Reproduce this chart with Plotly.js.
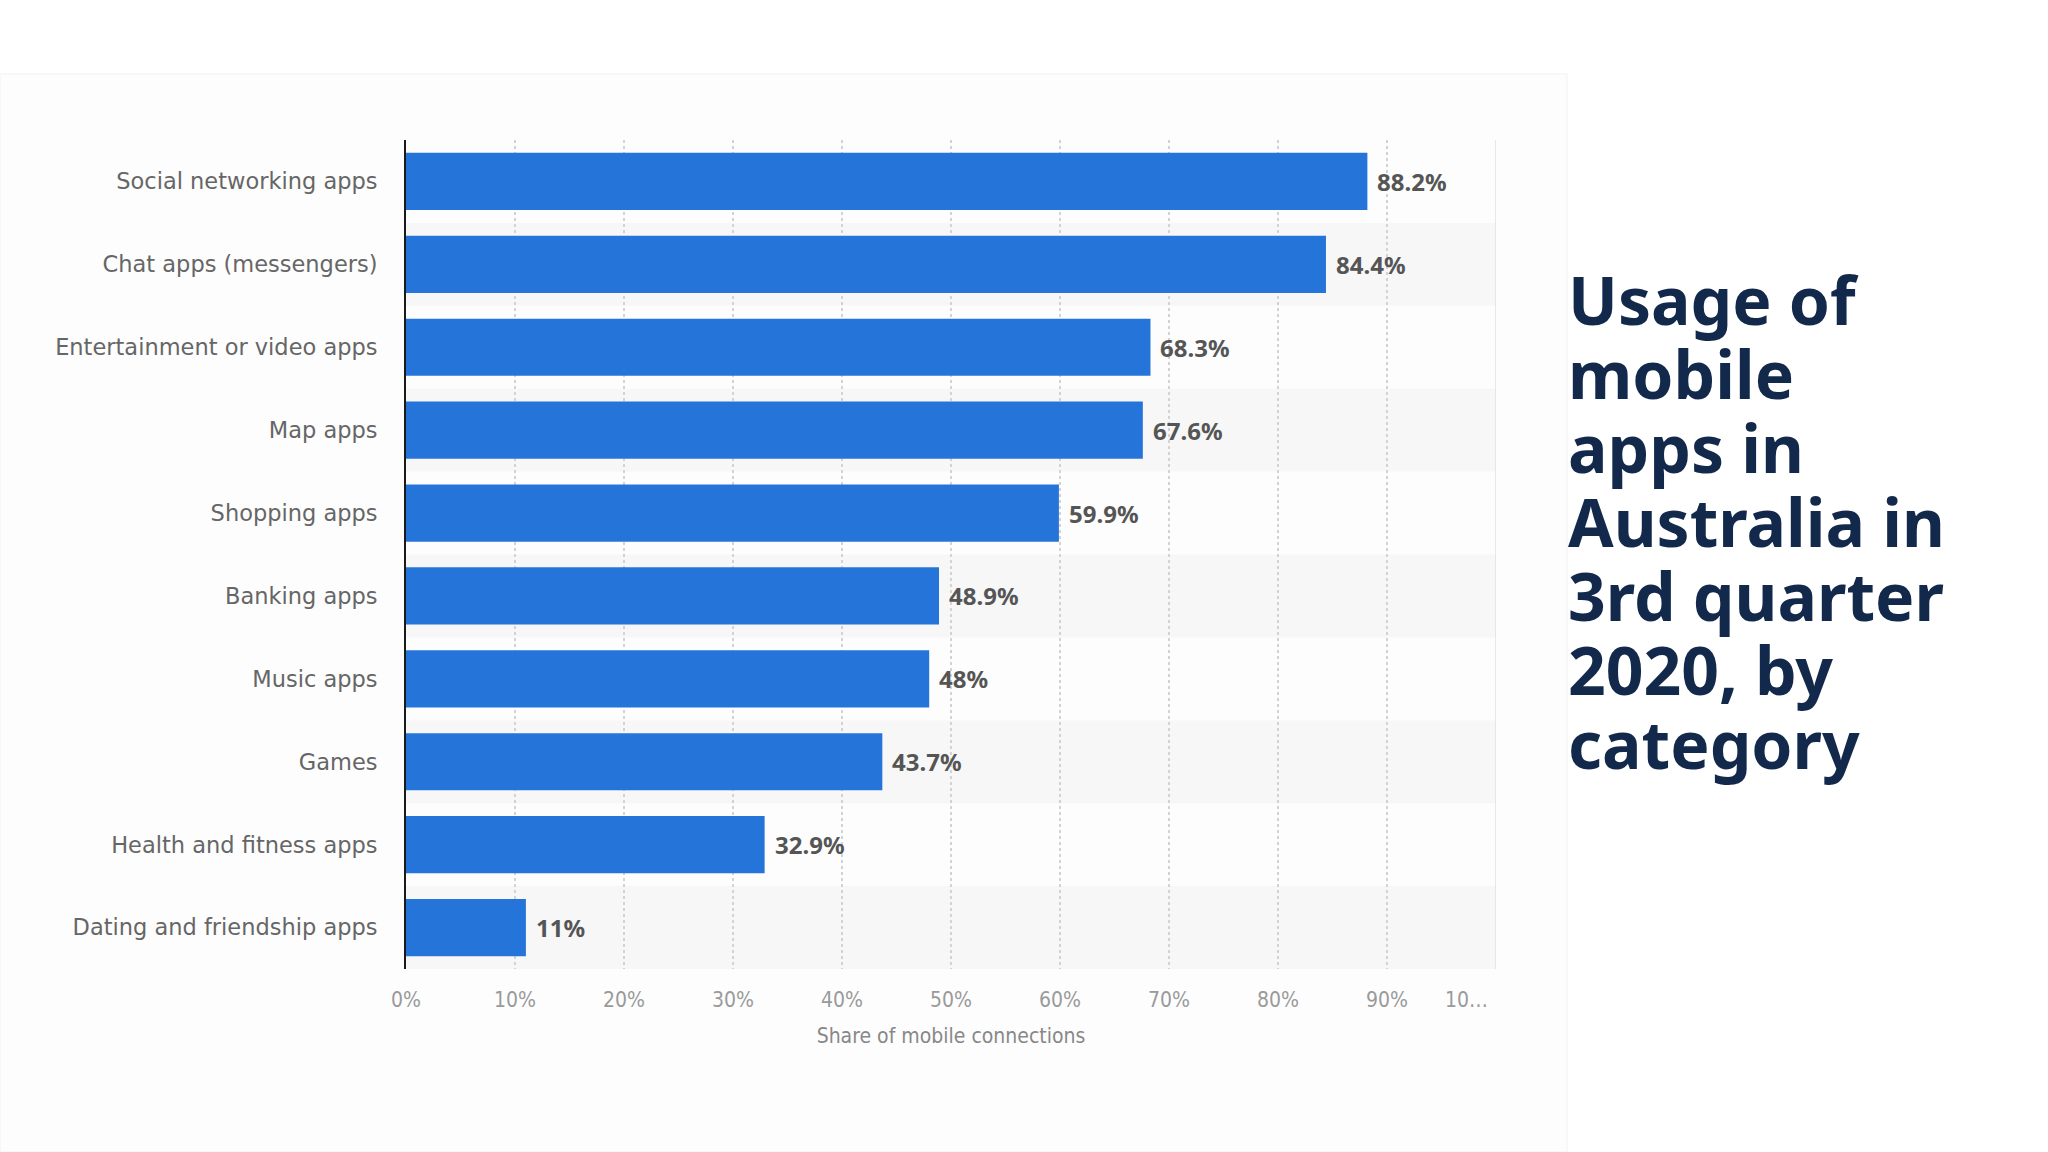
<!DOCTYPE html>
<html>
<head>
<meta charset="utf-8">
<script src="https://cdn.plot.ly/plotly-3.0.1.min.js"></script>
<style>
  html, body { margin: 0; padding: 0; background: #ffffff; }
  #chart { width: 2048px; height: 1152px; }
</style>
</head>
<body>
<div id="chart"></div>
<script>
// ---- data ----
const categories = [
  "Social networking apps",
  "Chat apps (messengers)",
  "Entertainment or video apps",
  "Map apps",
  "Shopping apps",
  "Banking apps",
  "Music apps",
  "Games",
  "Health and fitness apps",
  "Dating and friendship apps"
];
const shares = [88.2, 84.4, 68.3, 67.6, 59.9, 48.9, 48, 43.7, 32.9, 11];
const tickValues = [0, 10, 20, 30, 40, 50, 60, 70, 80, 90, 100];
const tickLabels = ["0%", "10%", "20%", "30%", "40%", "50%", "60%", "70%", "80%", "90%", "10\u2026"];
const titleLines = ["Usage of", "mobile", "apps in", "Australia in", "3rd quarter", "2020, by", "category"];
const xAxisTitle = "Share of mobile connections";

// ---- layout geometry ----
const W = 2048, H = 1152;
const M = { l: 406, r: 552, t: 140, b: 183 };
const plotW = W - M.l - M.r, plotH = H - M.t - M.b;
const pxToPaperX = px => (px - M.l) / plotW;
const pxToPaperY = py => (H - M.b - py) / plotH;

const barColor = "#2574d9";
const tickFont = { family: "DejaVu Sans Condensed, Liberation Sans Narrow, sans-serif", size: 21, color: "#9a9a9a" };

const trace = {
  type: "bar",
  orientation: "h",
  x: shares,
  y: categories,
  marker: { color: barColor, line: { width: 0 } },
  width: 0.69,
  hoverinfo: "x+y"
};

const shapes = [];
// chart panel
shapes.push({
  type: "rect", xref: "paper", yref: "paper",
  x0: pxToPaperX(0), x1: pxToPaperX(1567),
  y0: pxToPaperY(H), y1: pxToPaperY(74),
  fillcolor: "#fdfdfd", line: { color: "#f1f1f1", width: 1 }, layer: "below"
});
// alternating row stripes
categories.forEach((c, i) => {
  if (i % 2 === 1) {
    shapes.push({
      type: "rect", xref: "paper", yref: "y",
      x0: 0, x1: 1, y0: i - 0.5, y1: i + 0.5,
      fillcolor: "#f7f7f8", line: { width: 0 }, layer: "below"
    });
  }
});
// right edge line at axis max
const xMax = tickValues[tickValues.length - 1];
shapes.push({
  type: "line", xref: "x", yref: "paper",
  x0: xMax, x1: xMax, y0: 0, y1: 1,
  line: { color: "#e0e0e0", width: 1.5 }, layer: "below"
});

const annotations = [];
// value labels
shares.forEach((v, i) => {
  annotations.push({
    x: v, y: categories[i], xref: "x", yref: "y",
    text: v + "%", showarrow: false,
    xanchor: "left", yanchor: "middle", xshift: 8,
    font: { family: "Noto Sans, DejaVu Sans, sans-serif", size: 24, color: "#555555", weight: 700 }
  });
});
// truncated last tick label (drawn slightly left like the original)
annotations.push({
  x: xMax, y: 0, xref: "x", yref: "paper",
  text: tickLabels[tickLabels.length - 1], showarrow: false,
  xanchor: "center", yanchor: "top", xshift: -30, yshift: -17,
  font: tickFont
});
// title lines
const titleBaseline0 = 322, titleStep = 74, titleSize = 66;
titleLines.forEach((t, k) => {
  annotations.push({
    xref: "paper", yref: "paper",
    x: pxToPaperX(1566), y: pxToPaperY(titleBaseline0 + k * titleStep - titleSize * 0.35),
    xanchor: "left", yanchor: "middle",
    text: t, showarrow: false, align: "left",
    font: { family: "Noto Sans, DejaVu Sans, sans-serif", size: titleSize, color: "#13294b", weight: 700 }
  });
});

const shownTickText = tickLabels.map((t, i) => (i === tickLabels.length - 1 ? "" : t));

const layout = {
  width: W, height: H,
  margin: M,
  paper_bgcolor: "#ffffff",
  plot_bgcolor: "rgba(0,0,0,0)",
  showlegend: false,
  bargap: 0.31,
  xaxis: {
    range: [0, xMax],
    tickvals: tickValues,
    ticktext: shownTickText,
    showgrid: true,
    gridcolor: "#d3d3d3",
    griddash: "dot",
    gridwidth: 1.2,
    zeroline: false,
    showline: false,
    ticks: "",
    ticklabelstandoff: 16,
    tickfont: tickFont,
    title: {
      text: xAxisTitle,
      standoff: 17,
      font: { family: "DejaVu Sans Condensed, Liberation Sans Narrow, sans-serif", size: 21, color: "#888888" }
    },
    fixedrange: true
  },
  yaxis: {
    type: "category",
    autorange: "reversed",
    showgrid: false,
    zeroline: false,
    showline: true,
    linecolor: "#1a1a1a",
    linewidth: 2,
    ticks: "",
    ticklabelstandoff: 22,
    tickfont: { family: "DejaVu Sans, sans-serif", size: 22.5, color: "#666666" },
    fixedrange: true
  },
  shapes: shapes,
  annotations: annotations
};

Plotly.newPlot("chart", [trace], layout, { displayModeBar: false, staticPlot: true });
</script>
</body>
</html>
